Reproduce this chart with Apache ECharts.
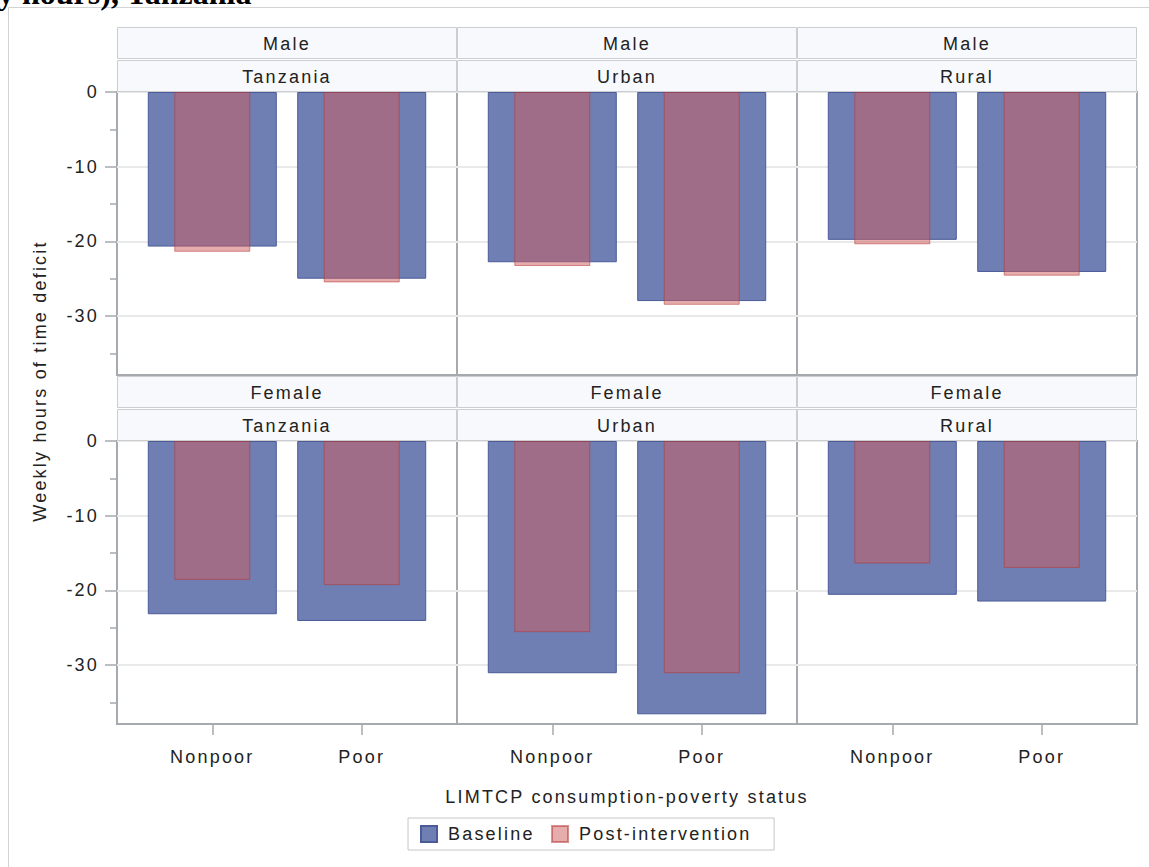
<!DOCTYPE html>
<html><head><meta charset="utf-8">
<script src="https://cdn.jsdelivr.net/npm/echarts@6/dist/echarts.min.js"></script>
<style>
html,body{margin:0;padding:0;background:#fff;}
#chart{width:1149px;height:867px;letter-spacing:2.2px;}
#chart text[style*="Serif"]{letter-spacing:0;}
</style></head><body><div id="chart"></div>
<script>
// ---- data ----
const sexes = ['Male', 'Female'];
const regions = ['Tanzania', 'Urban', 'Rural'];
const statuses = ['Nonpoor', 'Poor'];
const seriesNames = ['Baseline', 'Post-intervention'];
const yTickValues = [0, -10, -20, -30];
const yMinorTickValues = [-5, -15, -25, -35];
const titleText = 'y hours), Tanzania';
const xAxisTitle = 'LIMTCP consumption-poverty status';
const yAxisTitle = 'Weekly hours of time deficit';

// values: [Nonpoor, Poor]
const maleTanzaniaBaseline = [-20.7, -25.0];
const maleTanzaniaPost = [-21.4, -25.5];
const maleUrbanBaseline = [-22.8, -28.0];
const maleUrbanPost = [-23.3, -28.5];
const maleRuralBaseline = [-19.8, -24.1];
const maleRuralPost = [-20.4, -24.6];
const femaleTanzaniaBaseline = [-23.2, -24.1];
const femaleTanzaniaPost = [-18.6, -19.3];
const femaleUrbanBaseline = [-31.1, -36.6];
const femaleUrbanPost = [-25.6, -31.1];
const femaleRuralBaseline = [-20.6, -21.5];
const femaleRuralPost = [-16.4, -17.0];

const baselineByPanel = [
  [maleTanzaniaBaseline, maleUrbanBaseline, maleRuralBaseline],
  [femaleTanzaniaBaseline, femaleUrbanBaseline, femaleRuralBaseline]
];
const postByPanel = [
  [maleTanzaniaPost, maleUrbanPost, maleRuralPost],
  [femaleTanzaniaPost, femaleUrbanPost, femaleRuralPost]
];

// ---- layout / style ----
const FONT = '"Liberation Sans", Arial, sans-serif';
const TEXT = '#222';
const AXIS_GRAY = '#a6aaae';
const GRID_LINE = '#e9e9e9';
const plotLeft = 117, panelW = 340, panelH = 283;
const rowTops = [92, 441];
const yMin = -37.9, yMax = 0;
const xPad = 0.6376;

const chart = echarts.init(document.getElementById('chart'), null, {renderer: 'svg'});

const grid = [], xAxis = [], yAxis = [], series = [], graphics = [];
const catIdx = statuses.map((s, i) => i);

sexes.forEach((sex, r) => {
  regions.forEach((region, c) => {
    const g = r * 3 + c;
    const L = plotLeft + c * panelW, T = rowTops[r];
    grid.push({left: L, top: T, width: panelW, height: panelH, show: true,
      borderColor: AXIS_GRAY, borderWidth: 2, backgroundColor: 'transparent'});
    xAxis.push({type: 'value', gridIndex: g, min: -xPad, max: 1 + xPad, position: 'bottom',
      axisLine: {show: false, onZero: false}, splitLine: {show: false},
      axisTick: {show: r === 1, customValues: catIdx, length: 11, lineStyle: {color: AXIS_GRAY, width: 1.5}},
      axisLabel: {show: r === 1, customValues: catIdx, formatter: v => statuses[v],
        margin: 24, fontSize: 18, color: TEXT, fontFamily: FONT}});
    xAxis.push({type: 'value', gridIndex: g, min: -xPad, max: 1 + xPad, show: false,
      axisLine: {onZero: false}});
    yAxis.push({type: 'value', gridIndex: g, min: yMin, max: yMax, position: 'left',
      axisLine: {show: false, onZero: false},
      axisTick: {show: c === 0, customValues: yTickValues, length: 12, lineStyle: {color: AXIS_GRAY, width: 1.5}},
      axisLabel: {show: c === 0, customValues: yTickValues, margin: 18, fontSize: 18, color: TEXT, fontFamily: FONT},
      splitLine: {show: true, lineStyle: {color: GRID_LINE, width: 2}}});

    series.push({type: 'bar', name: seriesNames[0], xAxisIndex: 2 * g, yAxisIndex: g,
      barWidth: 129, data: baselineByPanel[r][c].map((v, i) => [i, v]),
      itemStyle: {color: '#6F7EB3', borderColor: '#4a5b98', borderWidth: 1}});
    series.push({type: 'bar', name: seriesNames[1], xAxisIndex: 2 * g + 1, yAxisIndex: g,
      barWidth: 76, data: postByPanel[r][c].map((v, i) => [i, v]),
      itemStyle: {color: 'rgba(208,91,91,0.5)', borderColor: 'rgba(180,55,55,0.55)', borderWidth: 1}});

    // header strips
    const strips = [sex, region];
    strips.forEach((txt, k) => {
      const y0 = T - 64.5 + k * 33;
      graphics.push({type: 'rect', silent: true, z: 10,
        shape: {x: L + 0.5, y: y0, width: panelW - 1, height: 31},
        style: {fill: '#f8f9fd', stroke: '#cbcdd1', lineWidth: 1}});
      graphics.push({type: 'text', silent: true, z: 11, x: L + panelW / 2, y: y0 + 16,
        style: {text: txt, font: '18px ' + FONT, fill: TEXT, align: 'center', verticalAlign: 'middle'}});
    });
  });
});

// minor ticks for first column
[0, 3].forEach(g => {
  yAxis.push({type: 'value', gridIndex: g, min: yMin, max: yMax, position: 'left', offset: 0,
    axisLine: {show: false, onZero: false}, axisLabel: {show: false}, splitLine: {show: false},
    axisTick: {show: true, customValues: yMinorTickValues, length: 7, lineStyle: {color: AXIS_GRAY, width: 1.5}}});
});

// frame + titles
graphics.push({type: 'polyline', silent: true, shape: {points: [[8.5, 867], [8.5, 7.5], [1149, 7.5]]},
  style: {stroke: '#d3d3d3', lineWidth: 1, fill: null}});
graphics.push({type: 'text', silent: true, x: -2, y: -7,
  style: {text: titleText, font: 'bold 32px "Liberation Serif", serif', fill: '#000', align: 'left', verticalAlign: 'middle'}});
graphics.push({type: 'text', silent: true, x: plotLeft + 1.5 * panelW, y: 797,
  style: {text: xAxisTitle, font: '18px ' + FONT, fill: TEXT, align: 'center', verticalAlign: 'middle'}});
graphics.push({type: 'text', silent: true, x: 40, y: 381, rotation: Math.PI / 2,
  style: {text: yAxisTitle, font: '18px ' + FONT, fill: TEXT, align: 'center', verticalAlign: 'middle'}});

chart.setOption({
  animation: false,
  backgroundColor: '#fff',
  grid, xAxis, yAxis, series,
  legend: {data: seriesNames, left: 408, top: 818, orient: 'horizontal', icon: 'rect',
    itemWidth: 16, itemHeight: 16, itemGap: 34, padding: [7, 60, 7, 12],
    borderColor: '#c6c6c6', borderWidth: 1, selectedMode: false,
    textStyle: {fontSize: 18, color: TEXT, fontFamily: FONT, padding: [0, 0, 0, 6]}},
  graphic: {elements: graphics}
});
</script></body></html>
